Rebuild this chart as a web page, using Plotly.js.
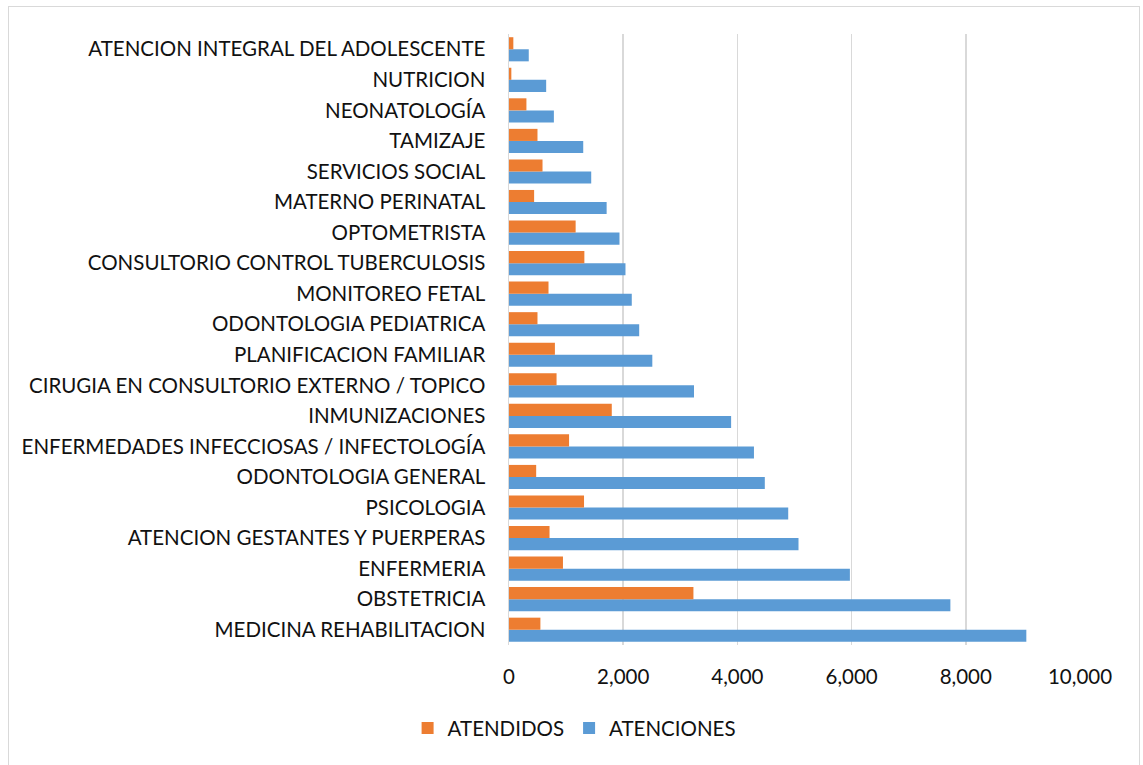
<!DOCTYPE html>
<html>
<head>
<meta charset="utf-8">
<script src="https://cdn.plot.ly/plotly-3.0.1.min.js"></script>
<style>
html,body{margin:0;padding:0;background:#fff;}
#wrap{position:absolute;left:0;top:0;width:1143px;height:765px;}
#frame{position:absolute;left:8px;top:6px;width:1132px;height:770px;border:1px solid #d9d9d9;box-sizing:border-box;pointer-events:none;}
#chart{position:absolute;left:0;top:0;width:1143px;height:765px;}
</style>
</head>
<body>
<div id="wrap">
<div id="chart"></div>
<div id="frame"></div>
</div>
<script>
const categories = [
  "MEDICINA REHABILITACION",
  "OBSTETRICIA",
  "ENFERMERIA",
  "ATENCION GESTANTES Y PUERPERAS",
  "PSICOLOGIA",
  "ODONTOLOGIA GENERAL",
  "ENFERMEDADES INFECCIOSAS / INFECTOLOGÍA",
  "INMUNIZACIONES",
  "CIRUGIA EN CONSULTORIO EXTERNO / TOPICO",
  "PLANIFICACION FAMILIAR",
  "ODONTOLOGIA PEDIATRICA",
  "MONITOREO FETAL",
  "CONSULTORIO CONTROL TUBERCULOSIS",
  "OPTOMETRISTA",
  "MATERNO PERINATAL",
  "SERVICIOS SOCIAL",
  "TAMIZAJE",
  "NEONATOLOGÍA",
  "NUTRICION",
  "ATENCION INTEGRAL DEL ADOLESCENTE"
];
const atenciones = [9060, 7730, 5970, 5070, 4890, 4480, 4290, 3890, 3240, 2510, 2280, 2150, 2040, 1935, 1710, 1440, 1300, 786, 651, 346];
const atendidos  = [550, 3230, 945, 710, 1314, 476, 1052, 1800, 833, 804, 499, 692, 1320, 1167, 440, 587, 499, 305, 41, 76];
const xTickVals = [0, 2000, 4000, 6000, 8000, 10000];

const font = {family: "Lato, 'Open Sans', sans-serif", size: 20.5, color: "#111"};

const traces = [
  {type: "bar", orientation: "h", name: "ATENCIONES", y: categories, x: atenciones,
   marker: {color: "#5b9bd5"}},
  {type: "bar", orientation: "h", name: "ATENDIDOS", y: categories, x: atendidos,
   marker: {color: "#ed7d31"}}
];

const layout = {
  width: 1143, height: 765,
  margin: {l: 509, r: 63, t: 34, b: 120, autoexpand: false},
  paper_bgcolor: "rgba(0,0,0,0)", plot_bgcolor: "#fff",
  font: font,
  barmode: "group", bargap: 0.21, bargroupgap: 0,
  showlegend: true,
  legend: {orientation: "h", traceorder: "reversed", x: 0.114, xanchor: "center",
           y: -0.136, yanchor: "middle", font: font, itemwidth: 30},
  xaxis: {range: [0, 10000], tickvals: xTickVals, tickformat: ",", showgrid: true, gridcolor: "#d9d9d9",
          gridwidth: 1.5, zeroline: false, showline: false, ticks: "", ticklabelstandoff: 17,
          fixedrange: true},
  yaxis: {type: "category", showgrid: false, zeroline: false, showline: true, linecolor: "#d9d9d9",
          linewidth: 1.5, ticks: "", ticklabelstandoff: 18, fixedrange: true}
};

Plotly.newPlot("chart", traces, layout, {displayModeBar: false, staticPlot: true});
</script>
</body>
</html>
